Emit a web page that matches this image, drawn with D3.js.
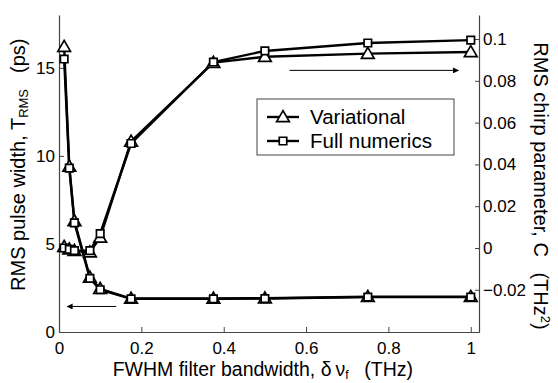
<!DOCTYPE html>
<html>
<head>
<meta charset="utf-8">
<script src="https://cdn.jsdelivr.net/npm/d3@7"></script>
<style>
  body { margin: 0; background: #fff; }
  text { font-family: "Liberation Sans", Arial, sans-serif; fill: #000; }
</style>
</head>
<body>
<div id="chart"></div>
<script>
// filter bandwidth (THz)
const bandwidth = [0.0125, 0.025, 0.0375, 0.075, 0.1, 0.175, 0.375, 0.5, 0.75, 1];

// RMS pulse width (ps), left axis
const widthVariational = [16.2, 9.4, 6.3, 3.1, 2.45, 1.9, 1.9, 1.92, 2.0, 2.0];
const widthNumerics    = [15.5, 9.3, 6.2, 3.05, 2.4, 1.88, 1.88, 1.9, 1.98, 1.98];

// RMS chirp parameter (THz^2), right axis
const chirpVariational = [0.0006, -0.0006, -0.0013, -0.002, 0.005, 0.051, 0.0887, 0.0915, 0.093, 0.0938];
const chirpNumerics    = [0.0, -0.0007, -0.0013, -0.0013, 0.0069, 0.050, 0.089, 0.0943, 0.0981, 0.0995];

const xTicks = [0, 0.2, 0.4, 0.6, 0.8, 1];
const leftTicks = [0, 5, 10, 15];
const rightTicks = [-0.02, 0, 0.02, 0.04, 0.06, 0.08, 0.1];

const W = 558, H = 383;
const margin = {top: 15, right: 79, bottom: 51, left: 59};

const svg = d3.select("#chart").append("svg")
    .attr("width", W)
    .attr("height", H);

const x = d3.scaleLinear().domain([0, 1.02]).range([margin.left, W - margin.right]);
const yL = d3.scaleLinear().domain([0, 18]).range([H - margin.bottom, margin.top]);
const yR = d3.scaleLinear().domain([-0.0402, 0.1115]).range([H - margin.bottom, margin.top]);

// axes, ticks pointing inwards
const fmt = d => d === 0 ? "0" : String(d).replace("-", "\u2212");

const gx = svg.append("g")
    .attr("transform", `translate(0,${H - margin.bottom})`)
    .call(d3.axisBottom(x).tickValues(xTicks).tickSizeInner(-5).tickSizeOuter(0).tickPadding(10).tickFormat(fmt));

const gl = svg.append("g")
    .attr("transform", `translate(${margin.left},0)`)
    .call(d3.axisLeft(yL).tickValues(leftTicks).tickSizeInner(-5).tickSizeOuter(0).tickPadding(4).tickFormat(fmt));

const gr = svg.append("g")
    .attr("transform", `translate(${W - margin.right},0)`)
    .call(d3.axisRight(yR).tickValues(rightTicks).tickSizeInner(-4).tickSizeOuter(0).tickPadding(4).tickFormat(fmt));

[gx, gl, gr].forEach(g => {
  g.select(".domain").attr("stroke", "#444").attr("stroke-width", 1.2);
  g.selectAll(".tick line").attr("stroke", "#444");
  g.selectAll(".tick text").style("font-size", "17px").attr("fill", "#000")
      .style("font-family", "'Liberation Sans', Arial, sans-serif");
});

// lines
const lineL = d3.line().x((d, i) => x(bandwidth[i])).y(d => yL(d));
const lineR = d3.line().x((d, i) => x(bandwidth[i])).y(d => yR(d));

const series = [
  {vals: widthVariational, line: lineL, y: yL, mark: "tri"},
  {vals: chirpVariational, line: lineR, y: yR, mark: "tri"},
  {vals: widthNumerics, line: lineL, y: yL, mark: "sq"},
  {vals: chirpNumerics, line: lineR, y: yR, mark: "sq"}
];

series.forEach(s => {
  svg.append("path")
      .datum(s.vals)
      .attr("d", s.line)
      .attr("fill", "none")
      .attr("stroke", "#000")
      .attr("stroke-width", 2.4);
});

const triSym = d3.symbol().type(d3.symbolTriangle).size(70);
const sqSym = d3.symbol().type(d3.symbolSquare).size(56);

function drawMarks(g, s) {
  g.selectAll(null)
    .data(s.vals)
    .join("path")
    .attr("transform", (d, i) => `translate(${x(bandwidth[i])},${s.y(d) + (s.mark === "tri" ? 1 : 0)})`)
    .attr("d", s.mark === "tri" ? triSym : sqSym)
    .attr("fill", "#fff")
    .attr("stroke", "#000")
    .attr("stroke-width", 1.7);
}
series.forEach(s => drawMarks(svg.append("g"), s));

// arrows pointing to each curve's axis
svg.append("defs").append("marker")
    .attr("id", "head")
    .attr("viewBox", "0 0 10 10")
    .attr("refX", 9).attr("refY", 5)
    .attr("markerWidth", 8).attr("markerHeight", 6)
    .attr("markerUnits", "userSpaceOnUse")
    .attr("orient", "auto")
    .append("path")
    .attr("d", "M0,0L10,5L0,10z")
    .attr("fill", "#000");

svg.append("line")
    .attr("x1", x(0.139)).attr("x2", x(0.02))
    .attr("y1", yL(1.45)).attr("y2", yL(1.45))
    .attr("stroke", "#000").attr("stroke-width", 1)
    .attr("marker-end", "url(#head)");

svg.append("line")
    .attr("x1", x(0.56)).attr("x2", x(0.97))
    .attr("y1", yR(0.085)).attr("y2", yR(0.085))
    .attr("stroke", "#000").attr("stroke-width", 1)
    .attr("marker-end", "url(#head)");

// legend
const lg = svg.append("g").attr("transform", "translate(257,99)");
lg.append("rect")
    .attr("width", 197).attr("height", 56)
    .attr("fill", "#fff").attr("stroke", "#444").attr("stroke-width", 1);

[["Variational", "tri"], ["Full numerics", "sq"]].forEach(([label, mark], i) => {
  const row = lg.append("g").attr("transform", `translate(0,${18 + i * 24})`);
  row.append("line").attr("x1", 10).attr("x2", 42)
      .attr("stroke", "#000").attr("stroke-width", 2.4);
  row.append("path")
      .attr("transform", `translate(26,${mark === "tri" ? 1 : 0})`)
      .attr("d", mark === "tri" ? triSym : sqSym)
      .attr("fill", "#fff").attr("stroke", "#000").attr("stroke-width", 1.7);
  row.append("text")
      .attr("x", 53).attr("y", 7)
      .style("font-size", "20.5px")
      .text(label);
});

// axis titles
const xt = svg.append("text")
    .attr("x", x(0.495)).attr("y", 376)
    .attr("text-anchor", "middle")
    .style("font-size", "19.5px");
xt.append("tspan").text("FWHM filter bandwidth, \u03b4\u2009\u03bd");
xt.append("tspan").attr("baseline-shift", "-25%").style("font-size", "12px").text("f");
xt.append("tspan").attr("dx", 6).text("\u2002(THz)");

const ylt = svg.append("text")
    .attr("transform", `translate(25,${yL(9.5)}) rotate(-90)`)
    .attr("text-anchor", "middle")
    .style("font-size", "20px");
ylt.append("tspan").text("RMS pulse width, T");
ylt.append("tspan").attr("baseline-shift", "-25%").style("font-size", "13px").text("RMS");
ylt.append("tspan").attr("dx", 6).text("\u2002(ps)");

const yrt = svg.append("text")
    .attr("transform", `translate(534,186) rotate(90)`)
    .attr("text-anchor", "middle")
    .style("font-size", "20px");
yrt.append("tspan").text("RMS chirp parameter, C\u2002 (THz");
yrt.append("tspan").attr("baseline-shift", "super").style("font-size", "13px").text("2");
yrt.append("tspan").text(")");
</script>
</body>
</html>
